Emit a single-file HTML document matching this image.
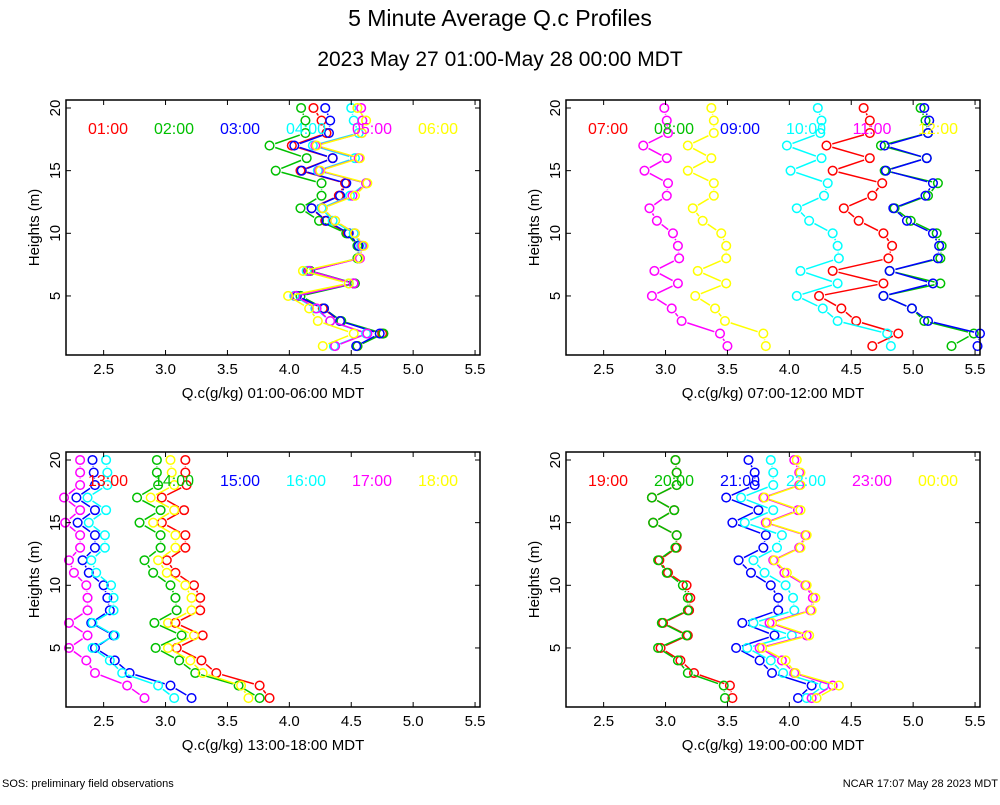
<!DOCTYPE html>
<html><head><meta charset="utf-8"><style>
body{margin:0;background:#fff;}
svg text{font-family:"Liberation Sans",sans-serif;}
</style></head><body>
<svg id="chart" width="1000" height="800" viewBox="0 0 1000 800" xmlns="http://www.w3.org/2000/svg">
<text x="500" y="26" font-size="23" text-anchor="middle">5 Minute Average Q.c Profiles</text>
<text x="500" y="66" font-size="21" text-anchor="middle">2023 May 27 01:00-May 28 00:00 MDT</text>
<text x="2" y="787" font-size="11">SOS: preliminary field observations</text>
<text x="998" y="787" font-size="11" text-anchor="end">NCAR 17:07 May 28 2023 MDT</text>
<g id="panels"></g>
</svg>
<script>
const heights = [1,2,3,4,5,6,7,8,9,10,11,12,13,14,15,16,17,18,19,20];
const xTicks = [2.5,3.0,3.5,4.0,4.5,5.0,5.5];
const xTickLabels = ["2.5","3.0","3.5","4.0","4.5","5.0","5.5"];
const yTicks = [5,10,15,20];
const colors = ["#ff0000","#00c000","#0000ff","#00ffff","#ff00ff","#ffff00"];
const legend1 = ["01:00","02:00","03:00","04:00","05:00","06:00"];
const legend2 = ["07:00","08:00","09:00","10:00","11:00","12:00"];
const legend3 = ["13:00","14:00","15:00","16:00","17:00","18:00"];
const legend4 = ["19:00","20:00","21:00","22:00","23:00","00:00"];
const xTitles = ["Q.c(g/kg) 01:00-06:00 MDT","Q.c(g/kg) 07:00-12:00 MDT","Q.c(g/kg) 13:00-18:00 MDT","Q.c(g/kg) 19:00-00:00 MDT"];
// values listed from height 1 to 20; series order red, green, blue, cyan, magenta, yellow
const p1red =    [4.55,4.75,4.41,4.27,4.06,4.52,4.15,4.56,4.56,4.47,4.29,4.18,4.40,4.45,4.09,4.35,4.02,4.30,4.26,4.195];
const p1green =  [4.55,4.76,4.42,4.28,4.09,4.53,4.17,4.55,4.55,4.46,4.24,4.09,4.26,4.26,3.89,4.14,3.84,4.13,4.13,4.095];
const p1blue =   [4.54,4.73,4.41,4.28,4.06,4.52,4.16,4.56,4.56,4.48,4.30,4.18,4.41,4.46,4.10,4.35,4.04,4.32,4.33,4.29];
const p1cyan =   [4.36,4.62,4.33,4.21,4.04,4.48,4.14,4.56,4.58,4.52,4.35,4.26,4.49,4.62,4.23,4.53,4.19,4.56,4.52,4.50];
const p1magenta =[4.37,4.63,4.33,4.22,4.05,4.52,4.16,4.57,4.59,4.53,4.37,4.27,4.51,4.62,4.24,4.56,4.21,4.585,4.59,4.58];
const p1yellow = [4.27,4.52,4.23,4.16,3.99,4.48,4.11,4.56,4.60,4.53,4.37,4.27,4.53,4.63,4.25,4.57,4.22,4.585,4.62,4.55];
const p2red =    [4.67,4.88,4.54,4.42,4.24,4.76,4.35,4.80,4.83,4.76,4.56,4.44,4.67,4.75,4.35,4.65,4.30,4.65,4.65,4.60];
const p2green =  [5.31,5.49,5.09,4.99,4.76,5.22,4.81,5.22,5.23,5.19,4.98,4.85,5.12,5.20,4.77,5.11,4.74,5.12,5.10,5.06];
const p2blue =   [5.52,5.54,5.12,4.99,4.76,5.16,4.81,5.20,5.21,5.16,4.95,4.84,5.10,5.16,4.78,5.11,4.77,5.12,5.13,5.09];
const p2cyan =   [4.82,4.79,4.39,4.27,4.06,4.39,4.09,4.40,4.39,4.35,4.16,4.06,4.28,4.31,4.01,4.26,3.98,4.25,4.26,4.23];
const p2magenta =[3.50,3.44,3.13,3.05,2.89,3.10,2.91,3.11,3.10,3.06,2.93,2.87,3.01,3.02,2.83,3.01,2.82,3.02,3.01,2.99];
const p2yellow = [3.81,3.79,3.48,3.40,3.24,3.49,3.26,3.49,3.49,3.45,3.30,3.22,3.39,3.39,3.18,3.37,3.18,3.39,3.39,3.37];
const p3red =    [3.84,3.76,3.41,3.29,3.09,3.30,3.08,3.28,3.28,3.23,3.08,3.01,3.16,3.16,2.97,3.15,2.97,3.17,3.16,3.16];
const p3green =  [3.76,3.59,3.24,3.11,2.92,3.13,2.91,3.09,3.08,3.04,2.90,2.83,2.96,2.96,2.79,2.96,2.77,2.94,2.93,2.93];
const p3blue =   [3.21,3.04,2.71,2.59,2.43,2.58,2.40,2.55,2.53,2.50,2.38,2.33,2.43,2.43,2.29,2.43,2.28,2.43,2.42,2.41];
const p3cyan =   [3.07,2.94,2.65,2.55,2.41,2.59,2.41,2.58,2.58,2.56,2.44,2.40,2.51,2.51,2.38,2.52,2.37,2.53,2.53,2.52];
const p3magenta =[2.83,2.69,2.43,2.36,2.22,2.37,2.22,2.37,2.37,2.36,2.26,2.22,2.31,2.31,2.19,2.31,2.18,2.31,2.31,2.31];
const p3yellow = [3.67,3.61,3.30,3.20,3.02,3.23,3.02,3.21,3.21,3.16,3.01,2.94,3.08,3.08,2.90,3.07,2.88,3.07,3.05,3.04];
const p4red =    [3.54,3.52,3.23,3.12,2.96,3.18,2.98,3.19,3.20,3.17,3.02,2.95,3.09,3.09,2.90,3.07,2.89,3.09,3.09,3.08];
const p4green =  [3.48,3.47,3.18,3.10,2.94,3.17,2.97,3.18,3.18,3.14,3.01,2.94,3.08,3.09,2.90,3.07,2.89,3.09,3.09,3.08];
const p4blue =   [4.07,4.18,3.86,3.76,3.57,3.88,3.62,3.91,3.91,3.85,3.69,3.59,3.79,3.81,3.54,3.75,3.49,3.72,3.72,3.67];
const p4cyan =   [4.14,4.28,3.95,3.85,3.66,4.02,3.71,4.04,4.03,3.97,3.80,3.71,3.90,3.94,3.64,3.87,3.61,3.87,3.87,3.85];
const p4magenta =[4.18,4.35,4.04,3.94,3.76,4.14,3.84,4.17,4.19,4.13,3.96,3.87,4.08,4.13,3.81,4.07,3.79,4.08,4.08,4.04];
const p4yellow = [4.22,4.40,4.05,3.97,3.78,4.16,3.86,4.18,4.21,4.14,3.98,3.88,4.09,4.14,3.82,4.09,3.80,4.09,4.09,4.06];

const panelSeries = [
  [p1red,p1green,p1blue,p1cyan,p1magenta,p1yellow],
  [p2red,p2green,p2blue,p2cyan,p2magenta,p2yellow],
  [p3red,p3green,p3blue,p3cyan,p3magenta,p3yellow],
  [p4red,p4green,p4blue,p4cyan,p4magenta,p4yellow]
];
const legends = [legend1,legend2,legend3,legend4];
const frames = [
  {l:66,r:480,t:100,b:355},{l:566,r:980,t:100,b:355},
  {l:66,r:480,t:452,b:707},{l:566,r:980,t:452,b:707}
];
const NS = "http://www.w3.org/2000/svg";
const root = document.getElementById('panels');
function mk(tag, attrs, parent){
  const e = document.createElementNS(NS, tag);
  for (const k in attrs) e.setAttribute(k, attrs[k]);
  parent.appendChild(e);
  return e;
}
frames.forEach((f, pi) => {
  const g = mk('g', {}, root);
  
  
  const xs = v => f.l + (v - 2.196) * (f.r - f.l) / (5.54 - 2.196);
  const y20 = f.t + 8;
  const ys = h => y20 + (20 - h) * 12.53;
  // data
  const series = panelSeries[pi];
  series.forEach((vals, si) => {
    const sg = mk('g', {}, g);
    
    
    for (let i = 0; i < vals.length - 1; i++) {
      const x1 = xs(vals[i]), y1 = ys(heights[i]), x2 = xs(vals[i+1]), y2 = ys(heights[i+1]);
      const dx = x2 - x1, dy = y2 - y1, d = Math.hypot(dx, dy), gap = 6;
      if (d > 2*gap) {
        const ln = mk('line', {x1:x1+dx*gap/d, y1:y1+dy*gap/d, x2:x2-dx*gap/d, y2:y2-dy*gap/d, stroke:colors[si], 'stroke-width':1.5}, sg);
        
        
      }
    }
    vals.forEach((v, i) => {
      const c = mk('circle', {cx:xs(v), cy:ys(heights[i]), r:4.3, fill:'none', stroke:colors[si], 'stroke-width':1.5}, sg);
      
      
    });
  });
  // frame
  const fr = mk('rect', {x:f.l, y:f.t, width:f.r-f.l, height:f.b-f.t, fill:'none', stroke:'#000', 'stroke-width':1.5}, g);
  
  
  xTicks.forEach((t, i) => {
    const x = xs(t);
    mk('line', {x1:x, y1:f.b, x2:x, y2:f.b-5, stroke:'#000'}, g);
    mk('line', {x1:x, y1:f.t, x2:x, y2:f.t+5, stroke:'#000'}, g);
    const tl = mk('text', {x:x, y:f.b+19, 'font-size':15, 'text-anchor':'middle'}, g);
    tl.textContent = xTickLabels[i];
    
    
  });
  yTicks.forEach(t => {
    const y = ys(t);
    mk('line', {x1:f.l, y1:y, x2:f.l+5, y2:y, stroke:'#000'}, g);
    mk('line', {x1:f.r, y1:y, x2:f.r-5, y2:y, stroke:'#000'}, g);
    const tl = mk('text', {x:0, y:0, 'font-size':15, 'text-anchor':'middle', transform:'translate(' + (f.l-6) + ',' + y + ') rotate(-90)'}, g);
    tl.textContent = String(t);
    
    
  });
  const xt = mk('text', {x:(f.l+f.r)/2, y:f.b+43, 'font-size':15, 'text-anchor':'middle'}, g);
  xt.textContent = xTitles[pi];
  
  
  const yt = mk('text', {x:0, y:0, 'font-size':15, 'text-anchor':'middle', transform:'translate(' + (f.l-27) + ',' + ((f.t+f.b)/2) + ') rotate(-90)'}, g);
  yt.textContent = 'Heights (m)';
  
  
  legends[pi].forEach((lab, si) => {
    const lt = mk('text', {x:f.l + 42 + si*66, y:f.t + 34, 'font-size':16, 'text-anchor':'middle', fill:colors[si]}, g);
    lt.textContent = lab;
    
    
  });
});
</script>
</body></html>
